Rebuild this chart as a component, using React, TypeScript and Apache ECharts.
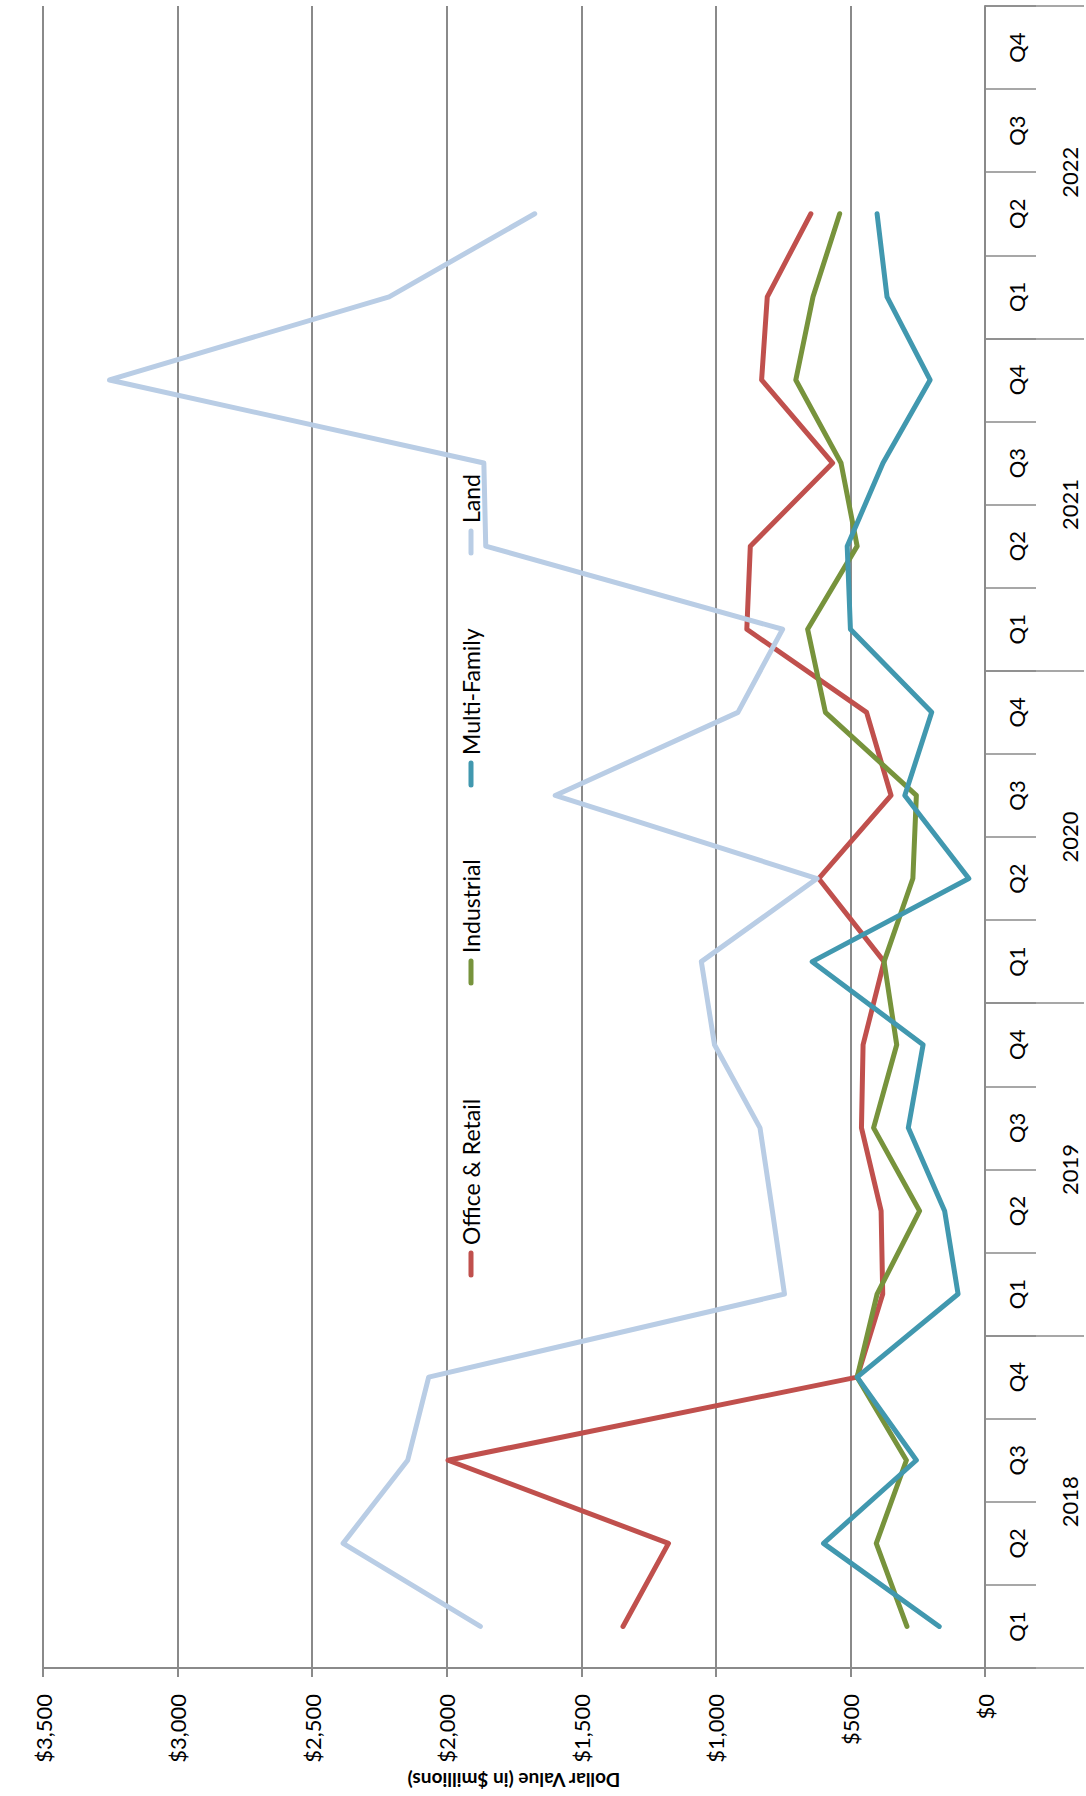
import React, { useEffect, useRef } from "react";
import * as echarts from "echarts";

const quarters = [
  "Q1", "Q2", "Q3", "Q4",
  "Q1", "Q2", "Q3", "Q4",
  "Q1", "Q2", "Q3", "Q4",
  "Q1", "Q2", "Q3", "Q4",
  "Q1", "Q2", "Q3", "Q4",
];
const years = ["2018", "2019", "2020", "2021", "2022"];
const seriesNames = ["Office & Retail", "Industrial", "Multi-Family", "Land"];
const seriesColors = ["#C0504D", "#77933C", "#4198AF", "#B9CDE5"];

const officeRetail = [1345, 1176, 1995, 475, 380, 386, 459, 453, 375, 618, 349, 440, 885, 872, 566, 830, 809, 647];
const industrial = [290, 404, 292, 475, 401, 243, 414, 328, 375, 268, 255, 593, 659, 475, 535, 703, 639, 540];
const multiFamily = [170, 600, 255, 475, 100, 150, 285, 230, 642, 60, 298, 198, 500, 512, 379, 204, 364, 401];
const land = [1875, 2385, 2145, 2067, 745, 790, 836, 1005, 1054, 624, 1597, 918, 752, 1855, 1862, 3253, 2214, 1673];

const valueMin = 0;
const valueMax = 3500;
const valueStep = 500;

const FONT = "Lato, 'Open Sans', sans-serif";
const GRID_COLOR = "#8a8a8a";

export default function App() {
  const ref = useRef<HTMLDivElement>(null);

  useEffect(() => {
    document.body.style.margin = "0";
    const el = ref.current!;
    const chart = echarts.init(el, null, { renderer: "svg" });
    const seriesData = [officeRetail, industrial, multiFamily, land];

    const legendOffsets = [0, 292, 490, 722];
    const legendChildren: any[] = [];
    seriesNames.forEach((name, i) => {
      const off = legendOffsets[i];
      legendChildren.push({
        type: "line",
        shape: { x1: off, y1: 0, x2: off + 22, y2: 0 },
        style: { stroke: seriesColors[i], lineWidth: 5, lineCap: "round" },
      });
      legendChildren.push({
        type: "text",
        x: off + 30,
        y: 0,
        style: {
          text: name,
          fill: "#000000",
          fontSize: 23,
          fontFamily: FONT,
          verticalAlign: "middle",
          align: "left",
        },
      });
    });

    chart.setOption({
      animation: false,
      backgroundColor: "#ffffff",
      grid: { left: 43, right: 101, top: 6, bottom: 128, containLabel: false },
      xAxis: {
        type: "value",
        min: valueMin,
        max: valueMax,
        interval: valueStep,
        inverse: true,
        position: "bottom",
        axisLine: { show: true, onZero: false, lineStyle: { color: GRID_COLOR, width: 2 } },
        axisTick: { show: true, length: 9, lineStyle: { color: GRID_COLOR, width: 2 } },
        splitLine: { show: true, lineStyle: { color: GRID_COLOR, width: 2 } },
        axisLabel: {
          rotate: 90,
          margin: 26,
          fontSize: 22,
          color: "#000000",
          fontFamily: FONT,
          formatter: (v: number) => "$" + v.toLocaleString("en-US"),
        },
        name: "Dollar Value (in $millions)",
        nameLocation: "middle",
        nameRotate: 180,
        nameGap: 102,
        nameTextStyle: { fontSize: 19, fontWeight: "bold", color: "#000000", fontFamily: FONT },
      },
      yAxis: [
        {
          type: "category",
          data: quarters,
          position: "right",
          boundaryGap: true,
          axisLine: { show: true, onZero: false, lineStyle: { color: GRID_COLOR, width: 2 } },
          axisTick: { show: true, interval: 0, length: 51, lineStyle: { color: GRID_COLOR, width: 1.5 } },
          axisLabel: {
            interval: 0,
            rotate: 90,
            margin: 20,
            fontSize: 22,
            color: "#000000",
            fontFamily: FONT,
          },
          splitLine: { show: false },
        },
        {
          type: "category",
          data: years,
          position: "right",
          boundaryGap: true,
          axisLine: { show: false },
          axisTick: { show: true, interval: 0, length: 99, lineStyle: { color: GRID_COLOR, width: 1.5 } },
          axisLabel: {
            interval: 0,
            rotate: 90,
            margin: 73,
            fontSize: 22,
            color: "#000000",
            fontFamily: FONT,
          },
          splitLine: { show: false },
        },
      ],
      series: seriesData.map((d, i) => ({
        type: "line",
        name: seriesNames[i],
        data: d,
        xAxisIndex: 0,
        yAxisIndex: 0,
        symbol: "none",
        lineStyle: { color: seriesColors[i], width: 5, cap: "round", join: "round" },
        itemStyle: { color: seriesColors[i] },
      })),
      graphic: [
        {
          type: "group",
          x: 471,
          y: 1275,
          rotation: Math.PI / 2,
          children: legendChildren,
        },
      ],
    });

    return () => {
      chart.dispose();
    };
  }, []);

  return <div ref={ref} style={{ width: 1086, height: 1796 }} />;
}
